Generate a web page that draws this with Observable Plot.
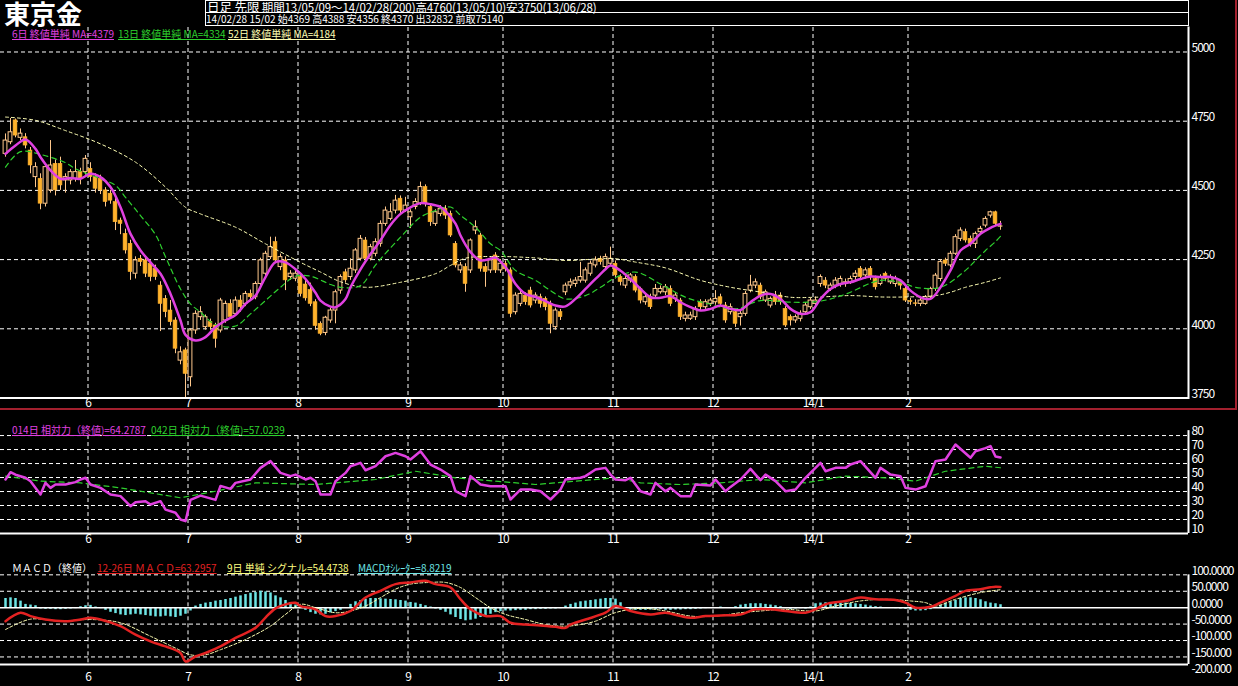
<!DOCTYPE html>
<html><head><meta charset="utf-8">
<script src="https://cdn.jsdelivr.net/npm/d3@7"></script>
<script src="https://cdn.jsdelivr.net/npm/@observablehq/plot@0.6"></script>
<style>
html,body{margin:0;padding:0;background:#000;}
#wrap{position:relative;width:1238px;height:686px;overflow:hidden;background:#000;font-family:"Noto Sans CJK JP",sans-serif;color:#fff;}
.abs{position:absolute;white-space:nowrap;}
.lg{font-size:10px;line-height:12px;text-decoration:underline;}
.panel{position:absolute;left:0;}
</style></head><body><div id="wrap"></div>
<script>
// ---------- data ----------
const open = [4632,4674,4753,4690,4692,4644,4548,4542,4452,4500, 4596,4596,4536,4536,4542,4566,4566,4578,4548,4542, 4500,4488,4458,4391,4343,4307,4199,4253,4247,4235, 4217,4156,4108,4066,4030,3885,3922,3825,3994,4042, 4006,4024,4012,3994,4030,4090,4054,4102,4090,4126, 4114,4162,4199,4259,4313,4223,4247,4187,4181,4187, 4160,4140,4096,4018,3985,4030,4066,4138,4204,4187, 4211,4253,4319,4253,4271,4307,4379,4397,4427,4470, 4427,4403,4440,4452,4512,4440,4379,4415,4433,4415, 4307,4211,4223,4211,4355,4337,4223,4211,4265,4211, 4235,4211,4060,4090,4120,4138,4102,4114,4108,4090, 4006,4060,4132,4156,4162,4174,4174,4199,4229,4253, 4223,4235,4235,4187,4156,4174,4187,4144,4096,4114, 4120,4132,4132,4144,4108,4102,4036,4036,4042,4096, 4078,4090,4096,4114,4084,4060,4060,4042,4054,4138, 4156,4156,4102,4084,4120,4120,4072,4042,4030,4036, 4060,4078,4090,4162,4174,4144,4156,4162,4162,4168, 4187,4217,4193,4217,4180,4162,4199,4168,4162,4168, 4144,4100,4092,4090,4090,4114,4144,4180,4247,4229, 4271,4325,4349,4325,4307,4349,4373,4409,4421,4369];
const high = [4704,4760,4758,4722,4705,4655,4600,4560,4595,4680, 4610,4620,4560,4575,4608,4580,4626,4600,4560,4555, 4510,4500,4470,4400,4360,4320,4260,4265,4260,4245, 4230,4170,4120,4102,4040,3935,3930,4000,4065,4080, 4050,4035,4020,4110,4100,4105,4115,4120,4135,4140, 4170,4255,4280,4331,4331,4270,4260,4210,4210,4200, 4175,4165,4105,4025,4045,4075,4140,4195,4215,4253, 4290,4337,4330,4305,4325,4390,4440,4452,4482,4480, 4475,4430,4470,4530,4520,4450,4430,4445,4445,4425, 4315,4240,4235,4325,4390,4345,4235,4255,4275,4250, 4245,4220,4130,4135,4130,4150,4130,4125,4115,4100, 4075,4070,4165,4180,4185,4240,4220,4245,4260,4262, 4270,4295,4245,4195,4190,4200,4195,4150,4125,4125, 4160,4155,4160,4155,4130,4110,4060,4060,4080,4105, 4105,4110,4138,4125,4095,4090,4070,4065,4135,4193, 4180,4165,4140,4115,4135,4130,4080,4050,4050,4065, 4095,4110,4115,4195,4185,4165,4185,4190,4180,4190, 4210,4225,4220,4225,4190,4195,4205,4195,4190,4175, 4150,4110,4105,4110,4120,4150,4200,4250,4255,4280, 4340,4365,4360,4335,4350,4370,4405,4425,4425,4388];
const low = [4620,4665,4690,4680,4650,4560,4510,4430,4440,4490, 4480,4500,4490,4520,4530,4520,4555,4530,4490,4485, 4440,4450,4355,4340,4270,4175,4180,4225,4185,4170, 4175,3990,4040,4010,3910,3870,3750,3790,3980,4030, 3995,3995,3930,3985,4020,4035,4045,4060,4080,4100, 4105,4150,4190,4250,4240,4210,4138,4175,4170,4115, 4100,4080,3995,3975,3975,4020,4018,4125,4165,4175, 4200,4245,4240,4245,4260,4295,4370,4390,4415,4415, 4420,4362,4430,4445,4440,4370,4370,4405,4395,4330, 4220,4200,4132,4200,4340,4205,4150,4200,4200,4200, 4205,4040,4050,4080,4085,4075,4090,4075,4065,3982, 3995,4030,4120,4145,4150,4165,4165,4190,4220,4230, 4215,4225,4180,4155,4145,4165,4130,4090,4085,4070, 4110,4125,4120,4080,4095,4030,4025,4030,4030,4065, 4070,4080,4085,4080,4020,4050,4005,4010,4045,4130, 4145,4105,4095,4075,4085,4085,4005,4010,4020,4025, 4050,4070,4080,4150,4145,4135,4145,4150,4150,4160, 4175,4175,4180,4175,4140,4155,4170,4160,4150,4140, 4095,4085,4080,4080,4085,4105,4135,4170,4225,4220, 4265,4315,4310,4295,4290,4340,4365,4400,4370,4356];
const close = [4680,4710,4698,4705,4662,4590,4584,4452,4584,4590, 4500,4518,4548,4566,4566,4542,4614,4548,4506,4500, 4458,4463,4385,4379,4283,4205,4247,4241,4199,4187, 4187,4090,4060,4024,3928,3915,3837,3994,4054,4060, 4042,4006,3964,4102,4090,4042,4102,4078,4126,4114, 4162,4247,4271,4295,4247,4259,4175,4199,4199,4126, 4110,4090,4010,3982,4040,4066,4132,4187,4175,4217, 4283,4325,4253,4295,4313,4379,4427,4421,4463,4427, 4445,4421,4458,4512,4452,4385,4421,4433,4409,4337, 4229,4229,4162,4319,4367,4217,4205,4247,4211,4235, 4215,4054,4120,4126,4096,4084,4120,4090,4078,4018, 4066,4042,4156,4168,4174,4187,4211,4235,4247,4241, 4259,4253,4193,4169,4180,4193,4138,4102,4114,4078, 4144,4144,4150,4090,4120,4042,4048,4048,4072,4078, 4096,4102,4108,4090,4030,4078,4018,4054,4126,4156, 4168,4114,4132,4108,4096,4096,4012,4030,4042,4054, 4084,4102,4102,4187,4156,4156,4174,4180,4168,4180, 4199,4187,4211,4187,4150,4187,4180,4187,4180,4156, 4102,4097,4090,4102,4114,4144,4192,4241,4235,4271, 4331,4355,4319,4307,4343,4361,4397,4421,4379,4370];

// moving averages: [day index, value]
const ma6 = [[0,4632],[2,4662],[4,4684],[6,4650],[7,4620],[9,4572],[11,4542],[13,4545],[15,4542],[17,4560],[19,4548],[21,4512],[23,4439],[25,4343],[27,4283],[29,4240],[31,4199],[33,4126],[35,4030],[36,3978],[38,3958],[40,3970],[42,4006],[44,4030],[46,4050],[48,4090],[50,4120],[52,4187],[54,4241],[56,4240],[58,4215],[60,4180],[62,4130],[63,4102],[65,4080],[66,4078],[68,4108],[69,4150],[71,4215],[73,4270],[75,4320],[77,4375],[79,4415],[81,4439],[83,4454],[85,4450],[87,4440],[88,4425],[90,4380],[91,4337],[93,4277],[95,4247],[97,4253],[98,4257],[100,4223],[102,4162],[104,4126],[106,4115],[108,4100],[110,4084],[112,4081],[114,4108],[116,4144],[118,4180],[120,4215],[121,4229],[123,4210],[125,4180],[127,4144],[129,4114],[131,4112],[133,4118],[135,4096],[137,4078],[139,4066],[141,4072],[143,4084],[145,4072],[147,4068],[149,4096],[151,4120],[153,4126],[155,4108],[157,4072],[159,4054],[161,4060],[163,4108],[165,4144],[167,4162],[169,4168],[171,4180],[173,4189],[175,4187],[177,4187],[179,4175],[181,4138],[183,4114],[185,4108],[187,4150],[189,4211],[191,4283],[193,4307],[195,4343],[197,4365],[199,4379]];
const ma13 = [[0,4584],[3,4640],[7,4630],[12,4600],[14,4578],[19,4542],[22,4518],[24,4475],[27,4409],[30,4340],[32,4260],[35,4144],[37,4090],[39,4060],[42,4015],[46,4010],[49,4054],[52,4102],[55,4150],[58,4190],[61,4190],[65,4160],[67,4150],[71,4156],[74,4230],[79,4331],[83,4403],[86,4427],[89,4440],[91,4410],[94,4367],[97,4307],[99,4283],[102,4211],[106,4175],[109,4138],[112,4108],[116,4120],[119,4150],[122,4185],[126,4205],[131,4162],[136,4114],[140,4093],[146,4072],[151,4102],[157,4096],[163,4100],[168,4125],[175,4175],[180,4162],[182,4150],[187,4150],[192,4211],[194,4247],[196,4283],[198,4315],[199,4334]];
const ma52 = [[0,4765],[6,4753],[12,4716],[19,4668],[26,4602],[32,4512],[36,4439],[39,4415],[46,4367],[52,4307],[59,4240],[63,4205],[67,4170],[72,4150],[79,4168],[86,4199],[89,4229],[92,4255],[99,4261],[106,4256],[112,4247],[119,4253],[122,4253],[126,4241],[132,4220],[139,4175],[145,4150],[152,4130],[157,4114],[162,4114],[169,4120],[175,4115],[180,4115],[186,4120],[189,4132],[192,4150],[196,4168],[199,4184]];

// relative strength
const rsi14 = [[0,48.6],[1,53.8],[2,52],[4,49.8],[5,47.4],[7,37.9],[8,46.2],[9,42.6],[10,45],[12,45],[14,46.7],[15,48.6],[16,49.8],[17,45],[19,42.6],[21,37.9],[23,36.7],[25,29.5],[26,32.4],[28,33.1],[29,30.7],[31,33.1],[32,27.1],[34,24.8],[35,20],[36,18.8],[37,34],[39,37.1],[42,34],[43,44],[45,41.9],[46,46.2],[49,48.6],[51,56.9],[53,61.7],[55,53.3],[57,51],[58,52.1],[60,48.6],[61,49.8],[62,47.4],[63,37.9],[65,37.9],[66,47.4],[68,53.3],[69,58.1],[71,60.5],[72,55.2],[74,58.1],[76,65.2],[77,66.4],[78,67.6],[80,65.2],[81,62.9],[83,68.8],[85,59.3],[87,55.7],[89,51],[90,40.2],[92,36.7],[93,51],[95,45],[97,43.8],[100,43.8],[101,34.3],[103,41.4],[105,41.4],[107,40.2],[109,34.3],[111,41.4],[112,48.6],[115,49.8],[116,51],[118,55.7],[120,56.9],[121,52.1],[122,48.6],[124,48.1],[125,49.8],[127,40.2],[129,37.9],[130,46.2],[132,40.2],[133,42.6],[135,36.7],[137,36.7],[138,45],[141,44.3],[142,48.6],[144,40.2],[145,43.3],[147,48.6],[149,56.2],[150,52.1],[151,48.1],[152,52.1],[154,47.4],[156,40.2],[158,41.4],[160,49.8],[163,60.5],[164,54.5],[166,56.9],[168,56.9],[169,59.3],[171,61.7],[174,49.8],[175,56.9],[177,52.1],[179,51],[180,42.6],[182,41.4],[184,43.8],[186,61.7],[188,62.9],[190,73.6],[193,64.1],[194,68.8],[196,71],[197,72.5],[198,65],[199,64.3]];
const rsi42 = [[0,51],[7,47.4],[15,46.2],[23,42.6],[35,35.5],[42,40.2],[50,46.2],[62,45],[74,48.6],[82,54.5],[90,49.8],[98,47.4],[106,45],[114,47.4],[122,49.8],[127,46.2],[135,45],[143,46.2],[151,48.6],[160,46.2],[168,51],[176,49.8],[182,47.4],[188,54.5],[196,58.1],[199,57]];

// MACD
const macd = [[0,-41],[3,-15.4],[5,-25.6],[8,-35.9],[12,-41],[15,-35.9],[17,-30.8],[19,-35.9],[23,-56.4],[26,-82],[29,-102.5],[32,-118],[35,-138],[36,-164],[38,-148.6],[40,-138],[43,-118],[46,-92],[50,-61.5],[52,-30],[54,-2],[56,10],[58,15],[59,5],[62,-5],[64,-25.6],[66,-25.6],[69,-10],[72,30.8],[75,51.3],[78,71.8],[81,76.9],[84,82],[86,71.8],[89,61.5],[91,25.6],[93,-5],[96,-25.6],[99,-25.6],[101,-46],[104,-51.3],[107,-54.3],[110,-58.4],[112,-61.5],[113,-51.3],[116,-35.9],[120,-15.4],[122,5],[125,-10],[129,-20.5],[132,-15.4],[135,-25.6],[137,-30.8],[140,-25.6],[143,-23.6],[147,-20.5],[150,-5],[153,-5],[156,-10],[160,-15.4],[162,-5],[164,10.3],[168,20.5],[171,30.8],[174,25.6],[178,23.6],[180,15.4],[182,0],[185,3],[187,15.4],[190,35.9],[192,51.3],[195,56.4],[197,62],[198,64],[199,63.3]];
const signal = [[0,-66.6],[5,-35],[11,-41],[17,-36],[23,-46],[29,-87],[34,-123],[37,-143.5],[40,-143.5],[43,-128],[48,-97],[53,-56],[56,-20.5],[59,10.3],[62,0],[66,-15.4],[69,-10],[72,5],[75,30.8],[78,56.4],[81,71.8],[85,76.9],[88,76.9],[91,61.5],[94,30.8],[97,0],[100,-20.5],[104,-36],[108,-51.3],[112,-56.4],[115,-51.3],[118,-41],[122,-15],[127,-2],[132,-10],[137,-25.6],[142,-25.6],[147,-15.4],[151,-10],[156,-5],[162,-10],[166,5],[171,20.5],[176,25.6],[181,20.5],[184,15.4],[186,5],[190,25.6],[195,46],[199,54.5]];
const oscillator = [28,30,28,20, 10,8,6, -4,-5,-5,-6,-6,-5,-4,-3, 3,6,7, 2,-3,-8, -14,-18,-22,-24,-22,-20,-22, -24,-26,-28,-28,-26,-28,-30,-26, -20,-10, 5,10,14,16, 20,22,25,28, 32,36,40,44,46,50,48,45, 36,30,22, 15,8,2, -8,-15,-20,-22,-20,-16, -12,-8,-2, 10,18,22,26,28,28,27,26,25, 24,22,20,16, 14,10,6,2, -4,-8,-14, -22,-30,-36,-40,-38,-35, -30,-25,-20, -15,-12,-10,-10,-9,-8,-8, -6,-6,-5,-5,-4,-4,-3, 5,10,14,18,20,22,24, 26,28,28,26, 15, -5,-7,-8,-8,-8,-7,-7,-6,-8,-8,-7,-7,-6,-6,-5,-4,-3, -2,0,2,-2,0,3, 8,10,12,12,12,10,8,6, 3,-3,-5,-4,-3,-4,2, 12,14,15,15,14,15,14,13,12,10,8, 5,3,2,0,-2,-3,-4,-5, -8,-10,-10,-9,-6,-2, 8,14,18,22, 28,30,30,28,24, 18,14,12,9];

// axes
const monthStart = [17,37,59,81,100,122,142,162,181];
const monthLabel = ["6","7","8","9","10","11","12","14/1","2"];
const priceTicks = [5000,4750,4500,4250,4000,3750];
const rsiTicks = [80,70,60,50,40,30,20,10];
const macdTicks = [100,50,0,-50,-100,-150,-200];
const macdTickLabel = ["100.0000","50.0000","0.0000","-50.0000","-100.000","-150.000","-200.000"];

// ---------- drawing ----------
const WHITE="#ffffff", BODY="#ffb22c", WICK="#ffc88c", MAG="#e040e0", GRN="#2ed12e", PALE="#ffffb4", RED="#e42222", CYAN="#6ee6e6";
const AXISFONT="'Noto Sans CJK JP',sans-serif";
const xDomain = [-1, 236.6];
const grid = {stroke: WHITE, strokeDasharray: "4,3", strokeWidth: 1};
const wrap = document.getElementById("wrap");
const candles = close.map((c, i) => ({i, o: open[i], h: high[i], l: low[i], c, up: c > open[i]}));

function place(el, top) {
  const d = document.createElement("div");
  d.className = "panel"; d.style.top = top + "px";
  d.appendChild(el); wrap.appendChild(d);
}
function monthMarks(dy, yTop) {
  return [
    Plot.ruleX(monthStart, {x: d => d - 0.5, y1: yTop, y2: null, ...grid}),
    Plot.text(monthStart, {x: d => d - 0.5, text: (d, i) => monthLabel[i], frameAnchor: "bottom", lineAnchor: "top", dy, fill: WHITE, fontSize: 12})
  ];
}
const baseStyle = {background: "transparent", overflow: "visible", fontFamily: AXISFONT, fontSize: "12px", letterSpacing: "-1px", color: WHITE};

// main price panel
place(Plot.plot({
  width: 1238, height: 383, marginTop: 0, marginBottom: 12.5, marginLeft: 0, marginRight: 50,
  x: {domain: xDomain, axis: null}, y: {domain: [3750, 5088.5], axis: null}, style: baseStyle,
  marks: [
    Plot.ruleY(priceTicks.slice(0, -1), grid),
    Plot.ruleX(monthStart, {x: d => d - 0.5, ...grid}),
    Plot.text(monthStart, {x: d => d - 0.5, text: (d, i) => monthLabel[i], frameAnchor: "bottom", lineAnchor: "top", dy: 0, fill: WHITE, fontSize: 12}),
    Plot.ruleX(candles, {x: "i", y1: "l", y2: "h", stroke: WICK, strokeWidth: 1}),
    Plot.rect(candles.filter(d => !d.up), {x1: d => d.i - 0.38, x2: d => d.i + 0.38, y1: "o", y2: "c", fill: BODY, stroke: BODY, strokeWidth: 0.6}),
    Plot.rect(candles.filter(d => d.up), {x1: d => d.i - 0.38, x2: d => d.i + 0.38, y1: "o", y2: "c", fill: "#000", stroke: WICK, strokeWidth: 1}),
    Plot.line(ma52, {x: d => d[0], y: d => d[1], stroke: PALE, strokeWidth: 1, strokeDasharray: "3,3", curve: "catmull-rom"}),
    Plot.line(ma13, {x: d => d[0], y: d => d[1], stroke: GRN, strokeWidth: 1.2, strokeDasharray: "5,4", curve: "catmull-rom"}),
    Plot.line(ma6, {x: d => d[0], y: d => d[1], stroke: MAG, strokeWidth: 2.5, curve: "catmull-rom"}),
    Plot.ruleY([3750], {stroke: WHITE, strokeWidth: 2}),
    Plot.frame({anchor: "right", stroke: WHITE, strokeWidth: 2}),
    Plot.text(priceTicks, {y: d => d, text: d => String(d), frameAnchor: "right", textAnchor: "start", dx: 3, dy: -4, fill: WHITE, fontSize: 12})
  ]
}), 27);

// RSI panel
place(Plot.plot({
  width: 1238, height: 145, marginTop: 0, marginBottom: 22, marginLeft: 0, marginRight: 50,
  x: {domain: xDomain, axis: null}, y: {domain: [10, 97.9], axis: null}, style: baseStyle,
  marks: [
    Plot.ruleY(rsiTicks.filter(t => t > 10), grid),
    ...monthMarks(1, 80),
    Plot.line(rsi42, {x: d => d[0], y: d => d[1], stroke: GRN, strokeWidth: 1.2, strokeDasharray: "5,4"}),
    Plot.line(rsi14, {x: d => d[0], y: d => d[1], stroke: MAG, strokeWidth: 2.5}),
    Plot.ruleY([10], {stroke: WHITE, strokeWidth: 2}),
    Plot.ruleX([xDomain[1]], {y1: 83.5, y2: 10, stroke: WHITE, strokeWidth: 2}),
    Plot.text(rsiTicks, {y: d => d, text: d => String(d), frameAnchor: "right", textAnchor: "start", dx: 3, dy: -4, fill: WHITE, fontSize: 12})
  ]
}), 410);

// MACD panel
place(Plot.plot({
  width: 1238, height: 131, marginTop: 0, marginBottom: 22, marginLeft: 0, marginRight: 50,
  x: {domain: xDomain, axis: null}, y: {domain: [-173, 158.9], axis: null}, style: baseStyle,
  marks: [
    Plot.ruleY(macdTicks.filter(t => t !== 0 && t > -200), grid),
    ...monthMarks(8, 100),
    Plot.ruleX(oscillator, {x: (d, i) => i, y1: 0, y2: d => d, stroke: CYAN, strokeWidth: 2.5}),
    Plot.ruleY([0], {stroke: WHITE, strokeWidth: 1.5}),
    Plot.line(signal, {x: d => d[0], y: d => d[1], stroke: PALE, strokeWidth: 1, strokeDasharray: "3,2", curve: "catmull-rom"}),
    Plot.line(macd, {x: d => d[0], y: d => d[1], stroke: RED, strokeWidth: 2.5, curve: "catmull-rom"}),
    Plot.ruleY([-173], {stroke: WHITE, strokeWidth: 2}),
    Plot.ruleX([xDomain[1]], {y1: 100, y2: -173, stroke: WHITE, strokeWidth: 2}),
    Plot.text(macdTicks, {y: d => d, text: (d, i) => macdTickLabel[i], frameAnchor: "right", textAnchor: "start", dx: 3, dy: -4, fill: WHITE, fontSize: 12})
  ]
}), 555);

// ---------- header, legends, separators ----------
function addDiv(html, css, cls) {
  const d = document.createElement("div");
  d.className = "abs" + (cls ? " " + cls : ""); d.style.cssText += css; d.innerHTML = html; wrap.appendChild(d);
}
addDiv("東京金", "left:4px;top:0px;font-size:26px;font-weight:bold;line-height:26px;");
addDiv("", "left:205px;top:0px;width:982px;height:12px;border:1px solid #fff;border-bottom:none;");
addDiv("", "left:205px;top:12px;width:982px;height:12px;border:1px solid #fff;");
addDiv('<span style="font-size:12.5px">日足 先限</span> 期間13/05/09～14/02/28(200)高4760(13/05/10)安3750(13/06/28)', "left:207px;top:1px;font-size:11.5px;line-height:11px;letter-spacing:-0.1px;");
addDiv("14/02/28 15/02 始4369 高4388 安4356 終4370 出32832 前取75140", "left:206px;top:14px;font-size:10px;line-height:10px;");
addDiv("6日 終値単純 MA=4379", `left:12px;top:28px;color:${MAG};`, "lg");
addDiv("13日 終値単純 MA=4334", `left:118px;top:28px;color:${GRN};`, "lg");
addDiv("52日 終値単純 MA=4184", `left:228px;top:28px;color:${PALE};`, "lg");
addDiv("014日 相対力（終値)=64.2787", `left:12px;top:424px;color:${MAG};`, "lg");
addDiv("042日 相対力（終値)=57.0239", `left:151px;top:424px;color:${GRN};`, "lg");
addDiv("ＭＡＣＤ（終値）", `left:12px;top:562px;color:#fff;text-decoration:none;`, "lg");
addDiv("12-26日 ＭＡＣＤ=63.2957", `left:97px;top:562px;color:${RED};`, "lg");
addDiv("9日 単純 シグナル=54.4738", `left:227px;top:562px;color:#ffff80;`, "lg");
addDiv("MACDｵｼﾚｰﾀｰ=8.8219", `left:358px;top:562px;color:${CYAN};`, "lg");
addDiv("", "left:0;top:408px;width:1237px;height:2px;background:#a3202e;");
addDiv("", "left:1235px;top:0;width:2px;height:410px;background:#a3202e;");
</script></body></html>
